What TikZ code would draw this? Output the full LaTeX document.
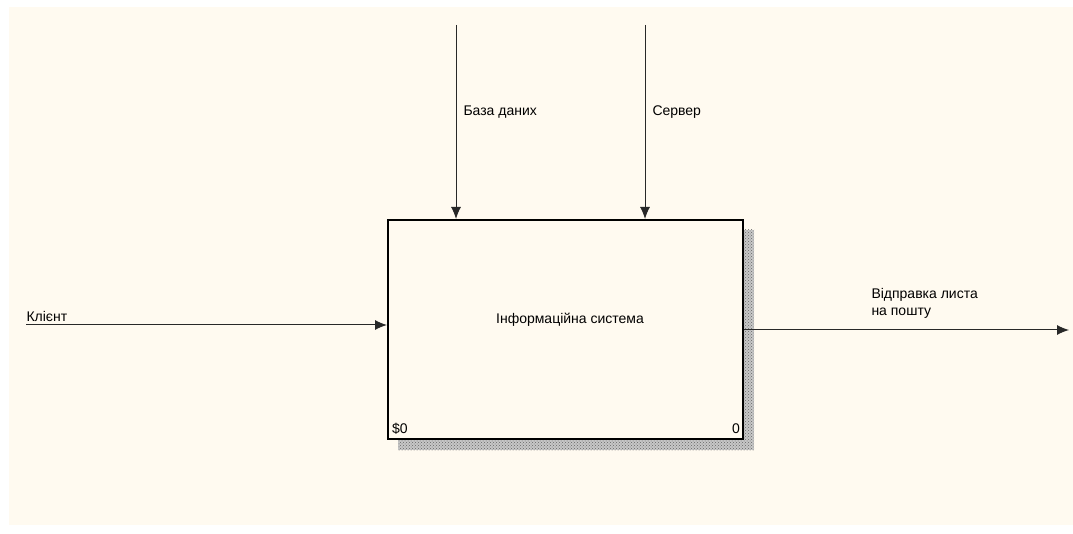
\documentclass[tikz,border=0pt]{standalone}
\usepackage{fontspec}
\setmainfont{Liberation Sans}
\usetikzlibrary{arrows.meta,patterns}
\definecolor{paper}{RGB}{255,250,240}
\definecolor{wire}{RGB}{40,40,40}

\begin{document}
\begin{tikzpicture}[x=1pt, y=-1pt, font=\fontsize{14}{17}\selectfont]
      \tikzstyle{every node}=[inner sep=0pt]
      \tikzstyle{func}=[draw=black, line width=2pt, fill=paper, minimum width=355pt, minimum height=219pt, anchor=north west]
      \tikzstyle{wire}=[draw=wire, line width=1pt, -{Latex[length=12pt,width=10pt]}]
      \useasboundingbox (0,0) rectangle (1073,534);
      \fill[paper] (9,7) rectangle (1073,525);
      % shadow of the box
      \fill[black!22] (398,230) rectangle (754,450);
      \fill[pattern=crosshatch dots, pattern color=black!60] (398,230) rectangle (754,450);
      \node[func] (sys) at (387,219) {};
      \node (sysname) at (570,320) {Інформаційна система};
      \node[anchor=base west] (num) at (392,433) {\$0};
      \node[anchor=base east] (nr) at (740,433) {0};
      \coordinate (in1) at (26,325);
      \coordinate (ctl1) at (456,25);
      \coordinate (ctl2) at (645,25);
      \coordinate (out1) at (1069,330);
      \path
      (in1) edge [wire] node[pos=0, anchor=south west, yshift=3pt]{Клієнт} (in1 -| sys.west)
      (ctl1) edge [wire] node[pos=0.45, anchor=west, xshift=7pt]{База даних} (ctl1 |- sys.north)
      (ctl2) edge [wire] node[pos=0.45, anchor=west, xshift=7pt]{Сервер} (ctl2 |- sys.north)
      (sys.east |- out1) edge [wire] node[pos=0.4, anchor=south west, align=left, xshift=-3pt, yshift=11pt]{Відправка листа\\на пошту} (out1);
    \end{tikzpicture}
\end{document}
